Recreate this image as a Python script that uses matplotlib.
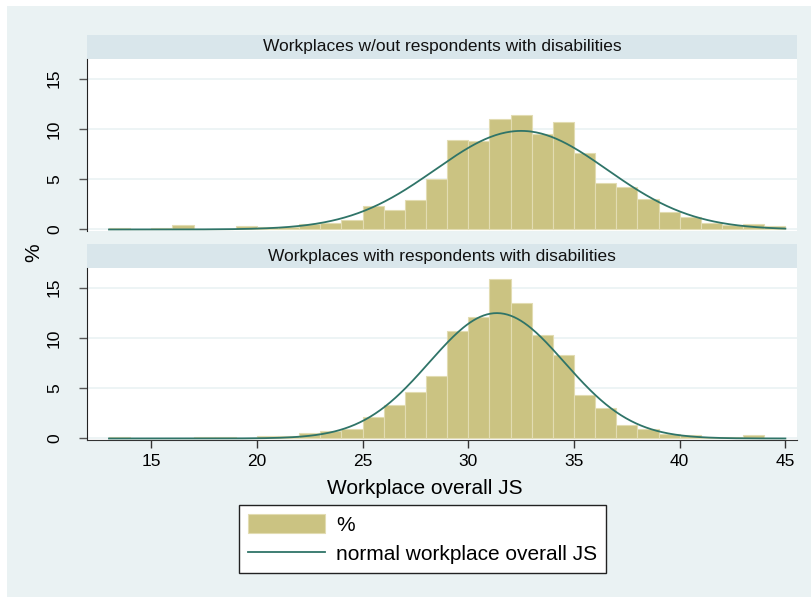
import numpy as np
import matplotlib
matplotlib.use("Agg")
import matplotlib.pyplot as plt
from matplotlib.patches import Rectangle

plt.rcParams['font.family'] = ['Liberation Sans', 'DejaVu Sans']

# bins of width 1 from 13 to 45
bin_edges = np.arange(13, 46, 1)

pct_without = [0.15, 0, 0.15, 0.4, 0, 0, 0.35, 0.2, 0.2, 0.5, 0.6, 0.95,
               2.35, 1.9, 2.9, 5.0, 8.9, 8.8, 11.0, 11.35, 9.5, 10.7, 7.6, 4.6,
               4.2, 3.0, 1.75, 1.2, 0.65, 0.4, 0.55, 0.35]
pct_with = [0.13, 0, 0, 0, 0.1, 0.1, 0.05, 0.25, 0.2, 0.53, 0.73, 0.93,
            2.1, 3.35, 4.6, 6.25, 10.7, 12.1, 15.9, 13.5, 10.3, 8.3, 4.3, 3.05,
            1.3, 0.96, 0.47, 0.37, 0.15, 0.15, 0.3, 0]

# mean / sd of the fitted normal curves
norm_without = (32.5, 4.07)
norm_with = (31.35, 3.2)

panel_titles = ["Workplaces w/out respondents with disabilities",
                "Workplaces with respondents with disabilities"]
x_ticks = [15, 20, 25, 30, 35, 40, 45]
y_ticks = [0, 5, 10, 15]

bar_color = "#CBC382"
bar_edge = "#E2DCB2"
line_color = "#2F7468"
bg = "#EAF2F3"
strip_color = "#D9E6EB"

W, H = 811, 597
fig = plt.figure(figsize=(W / 100, H / 100), dpi=100, facecolor="white")
fig.patches.append(Rectangle((7 / W, 0), 1, 1 - 6 / H, transform=fig.transFigure,
                             facecolor=bg, edgecolor="none", zorder=-10))


def px_axes(x0, y0, x1, y1):
    return fig.add_axes([x0 / W, 1 - y1 / H, (x1 - x0) / W, (y1 - y0) / H])


xs = np.linspace(13, 45, 400)
panels = [(35, 59, 231, pct_without, norm_without),
          (244, 268, 440, pct_with, norm_with)]

for i, (s0, p0, p1, vals, (mu, sd)) in enumerate(panels):
    strip = px_axes(87, s0, 797, p0)
    strip.set_facecolor(strip_color)
    strip.set_xticks([])
    strip.set_yticks([])
    for sp in strip.spines.values():
        sp.set_visible(False)
    strip.text(0.5, 0.5, panel_titles[i], ha="center", va="center", fontsize=12.5,
               color="#111111", transform=strip.transAxes)

    ax = px_axes(87, p0, 797, p1)
    ax.set_facecolor("white")
    bars = ax.bar(bin_edges[:-1], vals, width=1, align="edge", color=bar_color,
                  edgecolor=bar_edge, linewidth=0.8, label="%", zorder=2)
    curve = 100 * np.exp(-0.5 * ((xs - mu) / sd) ** 2) / (sd * np.sqrt(2 * np.pi))
    ln, = ax.plot(xs, curve, color=line_color, lw=1.3, label="normal workplace overall JS", zorder=3)
    ax.set_xlim(11.96, 45.55)
    ax.set_ylim(-0.15, 16.95)
    ax.set_yticks(y_ticks)
    ax.yaxis.grid(True, color=bg, lw=1.2, zorder=0)
    ax.set_axisbelow(True)
    ax.tick_params(axis="y", length=6, width=1, color="#555555", pad=12, labelsize=12.5)
    for lab in ax.get_yticklabels():
        lab.set_rotation(90)
        lab.set_va("center")
    ax.spines["left"].set_color("#222222")
    ax.spines["top"].set_visible(False)
    ax.spines["right"].set_visible(False)
    if i == 0:
        ax.spines["bottom"].set_visible(False)
        ax.set_xticks([])
    else:
        ax.spines["bottom"].set_color("#333333")
        ax.set_xticks(x_ticks)
        ax.tick_params(axis="x", length=6, width=1, color="#333333", pad=4, labelsize=12.5)

fig.text(34 / W, 1 - 253 / H, "%", rotation=90, ha="center", va="center", fontsize=15)
fig.text(425 / W, 1 - 488 / H, "Workplace overall JS", ha="center", va="center", fontsize=15)

leg = fig.legend([bars, ln], ["%", "normal workplace overall JS"], loc="upper left",
                 bbox_to_anchor=(239 / W, 1 - 505 / H), fontsize=15, frameon=True,
                 fancybox=False, edgecolor="#222222", facecolor="white", framealpha=1,
                 handlelength=3.7, handleheight=1.05, borderpad=0.42, labelspacing=0.42,
                 handletextpad=0.55, borderaxespad=0)
leg.get_frame().set_linewidth(1.0)

fig.savefig("out.png", dpi=100, facecolor=fig.get_facecolor())
